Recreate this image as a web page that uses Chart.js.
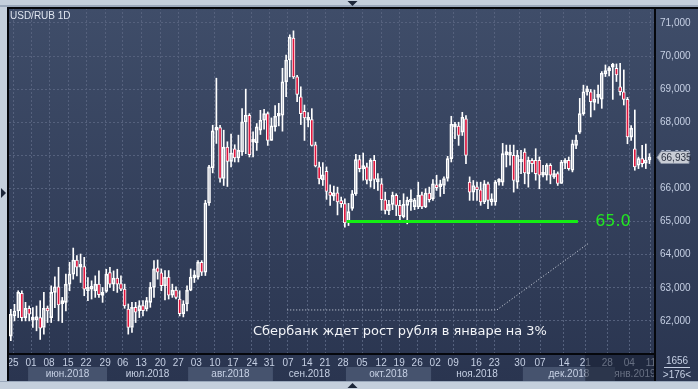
<!DOCTYPE html>
<html>
<head>
<meta charset="utf-8">
<script src="https://cdn.jsdelivr.net/npm/chart.js@4.4.1/dist/chart.umd.min.js"></script>
<style>
  html, body { margin: 0; padding: 0; background: #c4cfdc; overflow: hidden; }
  canvas { display: block; }
</style>
</head>
<body>
<canvas id="grafico" width="698" height="389"></canvas>
<script>
// USD/RUB 1D, 25.05.2018 - 11.01.2019
const opens = [
  61.54, 62.15, 62.30, 62.83, 62.10, 62.38, 62.02, 62.03, 62.10, 61.80,
  62.38, 62.10, 62.86, 63.03, 62.52, 62.56, 63.11, 63.41, 63.84, 63.62,
  63.64, 62.91, 62.96, 62.91, 63.11, 62.77, 62.89, 63.46, 63.11, 63.29,
  63.13, 62.96, 62.36, 61.80, 62.41, 62.31, 62.46, 62.36, 62.56, 63.01,
  63.60, 63.45, 63.06, 63.32, 62.78, 62.93, 62.66, 62.22, 62.51, 62.93,
  63.30, 63.32, 63.77, 63.47, 65.56, 66.63, 67.76, 67.84, 66.30, 67.25,
  66.82, 67.20, 66.92, 67.10, 68.01, 68.21, 67.40, 67.38, 67.76, 68.06,
  68.26, 67.45, 67.86, 68.18, 68.21, 69.22, 69.88, 70.54, 69.37, 68.77,
  68.33, 68.06, 68.08, 67.32, 66.65, 66.26, 66.52, 65.89, 65.77, 65.87,
  65.57, 65.54, 64.98, 65.40, 65.84, 66.87, 66.60, 66.65, 66.23, 66.85,
  66.20, 66.14, 65.66, 65.32, 65.52, 65.79, 65.49, 65.15, 65.49, 65.59,
  65.45, 65.44, 65.81, 65.44, 65.86, 65.69, 66.09, 66.05, 66.09, 66.30,
  66.90, 67.85, 67.88, 67.70, 68.10, 66.19, 65.89, 66.04, 65.96, 65.59,
  66.14, 65.59, 65.59, 66.19, 66.19, 67.02, 67.00, 67.00, 66.19, 66.80,
  67.10, 66.45, 66.85, 66.85, 66.85, 66.40, 66.40, 66.70, 66.35, 66.45,
  66.15, 66.76, 66.85, 66.55, 67.30, 67.70, 68.26, 68.92, 68.92, 68.60,
  68.75, 68.70, 69.46, 69.55, 69.66, 69.63, 69.07, 68.92, 68.69, 67.55,
  67.20, 66.70, 66.90, 66.76, 66.86
];
const highs = [
  62.35, 62.50, 62.91, 62.91, 62.56, 62.45, 62.40, 62.45, 62.61, 62.86,
  62.45, 63.06, 63.33, 63.62, 62.71, 63.41, 63.77, 64.20, 63.97, 64.02,
  63.92, 63.31, 63.21, 63.36, 63.51, 63.01, 63.56, 63.62, 63.51, 63.56,
  63.36, 63.11, 62.51, 62.56, 62.56, 62.61, 62.61, 62.71, 63.16, 63.82,
  63.84, 63.57, 63.52, 63.52, 63.11, 63.03, 62.91, 62.61, 63.06, 63.57,
  63.52, 63.82, 63.82, 65.64, 66.70, 67.91, 69.33, 67.91, 67.76, 67.41,
  67.64, 67.32, 67.61, 68.41, 69.00, 68.26, 67.71, 67.96, 68.36, 68.39,
  68.31, 68.13, 68.50, 68.57, 69.63, 70.03, 70.64, 70.76, 69.42, 69.07,
  68.52, 68.29, 68.41, 67.40, 66.80, 66.78, 66.65, 66.11, 66.07, 66.04,
  65.74, 65.69, 65.55, 65.94, 67.03, 67.00, 67.07, 66.77, 66.90, 67.00,
  66.45, 66.30, 65.89, 65.64, 65.89, 65.84, 65.64, 65.84, 65.74, 65.96,
  65.70, 66.19, 65.89, 65.99, 66.04, 66.27, 66.40, 66.25, 66.35, 66.97,
  68.18, 68.00, 68.00, 68.30, 68.20, 66.35, 66.24, 66.19, 66.19, 66.24,
  66.19, 65.84, 66.24, 66.30, 67.36, 67.31, 67.31, 67.31, 67.15, 67.15,
  67.20, 66.95, 66.90, 67.20, 66.95, 66.70, 66.75, 66.75, 66.55, 66.50,
  66.85, 66.90, 66.95, 67.46, 67.61, 68.72, 69.12, 69.09, 68.99, 68.97,
  69.12, 69.53, 69.73, 69.68, 69.78, 69.76, 69.78, 69.58, 68.75, 67.90,
  68.37, 66.95, 67.30, 67.34, 67.05
];
const lows = [
  61.40, 62.00, 62.10, 62.00, 62.00, 62.00, 61.80, 61.70, 61.44, 61.60,
  61.95, 61.95, 62.40, 62.00, 61.95, 62.30, 62.91, 63.26, 63.36, 63.16,
  62.76, 62.61, 62.66, 62.71, 62.71, 62.56, 62.86, 63.01, 62.91, 62.86,
  62.91, 62.38, 61.60, 61.65, 61.95, 62.10, 62.15, 62.30, 62.41, 62.71,
  63.26, 62.91, 62.63, 62.66, 62.71, 62.66, 62.15, 62.12, 62.30, 62.91,
  63.16, 63.26, 63.37, 63.37, 65.49, 66.47, 67.36, 66.19, 66.09, 66.06,
  66.65, 66.80, 66.80, 67.00, 67.05, 66.95, 66.95, 67.15, 67.63, 67.79,
  67.30, 67.45, 67.73, 67.89, 67.73, 68.77, 69.37, 69.32, 68.62, 67.93,
  67.45, 67.86, 67.28, 66.65, 66.14, 66.09, 65.67, 65.49, 65.64, 65.20,
  65.43, 64.83, 64.88, 65.34, 65.79, 66.50, 66.25, 66.14, 66.04, 65.99,
  65.94, 65.34, 65.23, 65.21, 65.36, 65.18, 65.03, 65.11, 64.93, 65.34,
  65.36, 65.39, 65.39, 65.42, 65.59, 65.64, 65.94, 65.76, 65.84, 66.22,
  66.80, 67.50, 67.30, 67.60, 66.75, 65.64, 65.64, 65.64, 65.49, 65.54,
  65.39, 65.49, 65.49, 66.10, 66.09, 66.65, 66.70, 65.89, 66.00, 66.45,
  66.14, 66.04, 66.50, 66.25, 65.99, 66.35, 66.25, 66.14, 66.30, 66.09,
  66.15, 66.60, 66.55, 66.50, 67.20, 67.66, 68.21, 68.82, 68.16, 68.37,
  68.57, 68.42, 69.38, 69.40, 68.69, 69.23, 68.82, 68.52, 67.35, 67.45,
  66.55, 66.60, 66.65, 66.60, 66.75
];
const closes = [
  62.20, 62.30, 62.86, 62.10, 62.38, 62.20, 62.04, 62.13, 61.78, 62.38,
  62.30, 62.86, 63.03, 62.48, 62.56, 63.11, 63.41, 63.84, 63.62, 63.64,
  62.96, 63.01, 63.03, 63.11, 62.79, 62.80, 63.41, 63.11, 63.29, 63.11,
  62.96, 62.45, 61.80, 62.41, 62.26, 62.46, 62.31, 62.61, 63.01, 63.57,
  63.47, 63.06, 63.32, 62.78, 62.93, 62.71, 62.22, 62.51, 62.93, 63.32,
  63.34, 63.77, 63.47, 65.56, 66.65, 67.74, 67.81, 66.30, 67.25, 66.82,
  67.07, 66.92, 67.15, 68.01, 68.21, 67.02, 67.46, 67.86, 68.06, 68.26,
  67.45, 67.89, 68.18, 68.21, 69.22, 69.88, 70.57, 69.37, 68.84, 68.26,
  68.13, 68.12, 67.30, 66.68, 66.29, 66.41, 65.91, 65.79, 65.87, 65.59,
  65.54, 64.96, 65.30, 65.84, 66.87, 66.60, 66.65, 66.25, 66.85, 66.27,
  66.30, 65.66, 65.34, 65.52, 65.79, 65.49, 65.18, 65.52, 65.64, 65.66,
  65.65, 65.79, 65.44, 65.86, 65.66, 66.14, 66.02, 66.10, 66.30, 66.90,
  67.94, 67.90, 67.60, 68.15, 67.00, 65.89, 66.09, 65.96, 65.59, 66.14,
  65.64, 65.69, 66.19, 66.22, 67.05, 67.07, 67.05, 66.24, 67.00, 66.85,
  66.47, 66.85, 66.75, 66.45, 66.40, 66.45, 66.70, 66.40, 66.45, 66.15,
  66.80, 66.80, 66.60, 67.35, 67.46, 68.26, 68.92, 68.97, 68.62, 68.70,
  68.80, 69.48, 69.56, 69.57, 69.68, 69.43, 68.92, 68.69, 67.56, 67.82,
  66.65, 66.90, 66.75, 66.86, 66.935
];

const barrasVisibles = 176; // ">176<"
const yTicks = [62, 63, 64, 65, 66, 67, 68, 69, 70, 71];
const dateTicks = ['25', '01', '08', '15', '22', '29', '06', '13', '20', '27', '03', '10', '17',
  '24', '31', '07', '14', '21', '28', '05', '12', '19', '26', '02', '09', '16', '23', '30',
  '07', '14', '21', '28', '04', '11'];
const dateTickPos = [0.6, 5.5, 10.4, 15.6, 20.5, 25.7, 30.5, 35.5, 40.7, 45.6, 50.5, 55.6, 60.5,
  65.7, 70.4, 75.5, 80.7, 85.6, 90.5, 95.7, 100.9, 105.8, 110.7, 115.6, 120.5, 126.8, 131.7, 138.7,
  144.2, 150.7, 156.5, 162.5, 168.5, 174.4];
const months = ['', 'июн.2018', 'июл.2018', 'авг.2018', 'сен.2018', 'окт.2018', 'ноя.2018', 'дек.2018', 'янв.2019'];
const monthEdges = [-0.5, 4.7, 26.2, 48.3, 71.4, 91.3, 114.5, 139.5, 164.6, 175.5];

// уровень 65.0 и прогнозная пунктирная линия
const nivelX = [91.5, 154.5];
const nivel = 65.0;
const pronosticoX = [75.3, 132.4, 157.6];
const pronosticoY = [62.33, 62.33, 64.36];
const nota = 'Сбербанк ждет рост рубля в январе на 3%';
const notaX = 106, notaY = 61.68;
const nivelLabelX = 159.2;
const inicioFuturo = 156.5; // затемнённая часть шкалы дат
const contador = '1656';

const idx = closes.map((_, i) => i);
const sube = i => closes[i] >= opens[i];

const mechaAlta = idx.map(i => ({ x: i, y: [Math.max(opens[i], closes[i]), highs[i]] }));
const mechaBaja = idx.map(i => ({ x: i, y: [lows[i], Math.min(opens[i], closes[i])] }));
const cuerpos = idx.map(i => ({ x: i, y: [opens[i], closes[i]] }));
const lineaNivel = nivelX.map(x => ({ x, y: nivel }));
const lineaPronostico = pronosticoX.map((x, i) => ({ x, y: pronosticoY[i] }));

const TXT = '#c6d0e4';
const FUENTE = 'Liberation Sans';

const fondo = {
  id: 'fondo',
  beforeDraw(chart) {
    const { ctx, chartArea: a, width: W, height: H } = chart;
    const xs = chart.scales.x;
    ctx.save();
    ctx.fillStyle = '#c4cfdc';
    ctx.fillRect(0, 0, W, H);
    ctx.fillStyle = '#9aa8bb';
    ctx.fillRect(0, 5, W, 2);
    ctx.fillRect(0, H - 8, W, 1);
    const g = ctx.createLinearGradient(0, a.top, 0, H - 8);
    g.addColorStop(0, '#3f4d69');
    g.addColorStop(1, '#2a3550');
    ctx.fillStyle = g;
    ctx.fillRect(8, 8, W - 8, H - 16);

    // полосы месяцев
    ctx.font = `10px "${FUENTE}"`;
    ctx.textAlign = 'center';
    ctx.textBaseline = 'middle';
    for (let m = 0; m < months.length; m++) {
      const x0 = xs.getPixelForValue(monthEdges[m]);
      const x1 = xs.getPixelForValue(monthEdges[m + 1]);
      if (m % 2 === 1) {
        ctx.fillStyle = '#46536e';
        ctx.fillRect(x0, a.bottom + 13, x1 - x0, 14);
      }
      if (months[m]) {
        ctx.fillStyle = TXT;
        ctx.fillText(months[m], (x0 + x1) / 2, a.bottom + 20.5);
      }
    }
    ctx.restore();
  },
  afterDraw(chart) {
    const { ctx, chartArea: a, width: W, height: H } = chart;
    const xs = chart.scales.x, ys = chart.scales.y;
    ctx.save();

    // затемнение правой части шкалы дат
    const xf = xs.getPixelForValue(inicioFuturo);
    ctx.fillStyle = 'rgba(24, 31, 50, 0.55)';
    ctx.fillRect(xf, a.bottom + 1, a.right - xf, H - 9 - a.bottom);

    // рамки
    ctx.fillStyle = '#05070c';
    ctx.fillRect(7, 7, W - 7, 2);
    ctx.fillRect(7, 7, 2, H - 15);
    ctx.fillRect(7, a.bottom - 1, a.right - 6, 2);
    ctx.fillRect(a.right - 1, 7, 2, H - 15);

    // заголовок
    ctx.fillStyle = '#dfe5ef';
    ctx.font = `10px "${FUENTE}"`;
    ctx.textAlign = 'left';
    ctx.textBaseline = 'middle';
    ctx.fillText('USD/RUB 1D', a.left + 1, a.top + 8);

    // подпись уровня
    ctx.fillStyle = '#22e622';
    ctx.font = '16px "DejaVu Sans"';
    ctx.fillText(nivel.toFixed(1), xs.getPixelForValue(nivelLabelX), ys.getPixelForValue(nivel));

    // текст прогноза
    ctx.fillStyle = '#f2f4f8';
    ctx.font = '13px "DejaVu Sans"';
    const w = ctx.measureText(nota).width;
    const size = 13 * 294 / w;
    ctx.font = `${size.toFixed(2)}px "DejaVu Sans"`;
    ctx.textAlign = 'center';
    ctx.fillText(nota, xs.getPixelForValue(notaX), ys.getPixelForValue(notaY));

    // метка последней цены
    const last = closes[closes.length - 1];
    const py = Math.round(ys.getPixelForValue(last)) + 0.5;
    const px = a.right + 2;
    ctx.beginPath();
    ctx.moveTo(px, py);
    ctx.lineTo(px + 4, py - 6);
    ctx.lineTo(px + 32, py - 6);
    ctx.lineTo(px + 32, py + 6);
    ctx.lineTo(px + 4, py + 6);
    ctx.closePath();
    ctx.fillStyle = '#c9cdd5';
    ctx.fill();
    ctx.strokeStyle = '#8790a2';
    ctx.lineWidth = 1;
    ctx.stroke();
    ctx.fillStyle = '#2a3040';
    ctx.font = `10px "${FUENTE}"`;
    ctx.textAlign = 'left';
    ctx.fillText(last.toFixed(3).replace('.', ','), px + 4, py + 0.5);

    // счётчик баров
    const cx = a.right + 22;
    ctx.fillStyle = TXT;
    ctx.textAlign = 'center';
    ctx.fillText(contador, cx, a.bottom + 7);
    ctx.fillRect(cx - 13, a.bottom + 13, 26, 1);
    ctx.fillText('>' + barrasVisibles + '<', cx, a.bottom + 21);

    // треугольники прокрутки
    ctx.fillStyle = '#1c2638';
    const mx = 352.5;
    ctx.beginPath(); ctx.moveTo(mx - 5, 1); ctx.lineTo(mx + 5, 1); ctx.lineTo(mx, 6); ctx.fill();
    ctx.beginPath(); ctx.moveTo(mx - 5, H - 1); ctx.lineTo(mx + 5, H - 1); ctx.lineTo(mx, H - 6); ctx.fill();
    ctx.beginPath(); ctx.moveTo(1, 188); ctx.lineTo(1, 198); ctx.lineTo(6, 193); ctx.fill();
    ctx.restore();
  }
};

const gridColor = '#55617d';

new Chart(document.getElementById('grafico').getContext('2d'), {
  type: 'bar',
  data: {
    datasets: [
      {
        type: 'line', data: lineaNivel, borderColor: '#14ee14', borderWidth: 3,
        pointRadius: 0, order: 0
      },
      {
        data: cuerpos, grouped: false, barThickness: 3, minBarLength: 3,
        borderWidth: 1, borderSkipped: false, borderColor: '#ffffff',
        backgroundColor: c => sube(c.dataIndex) ? 'rgba(0,0,0,0)' : '#e0163e',
        order: 1
      },
      { data: mechaAlta, grouped: false, barThickness: 1, backgroundColor: '#ffffff', order: 2 },
      { data: mechaBaja, grouped: false, barThickness: 1, backgroundColor: '#ffffff', order: 2 },
      {
        type: 'line', data: lineaPronostico, borderColor: '#d5dae4', borderWidth: 1,
        borderDash: [1, 2], pointRadius: 0, order: 3
      }
    ]
  },
  options: {
    responsive: false,
    animation: false,
    devicePixelRatio: 1,
    layout: { padding: { left: 9, top: 8, right: 0, bottom: 7 } },
    plugins: { legend: { display: false }, tooltip: { enabled: false } },
    scales: {
      x: {
        type: 'linear',
        offset: false,
        min: -0.5,
        max: barrasVisibles - 0.5,
        afterBuildTicks: s => { s.ticks = dateTickPos.map(v => ({ value: v })); },
        afterFit: s => { s.height = 28; s.paddingLeft = 0; s.paddingRight = 0; },
        grid: { color: gridColor, drawTicks: false, offset: false },
        border: { display: false, dash: [2, 2] },
        ticks: {
          autoSkip: false, maxRotation: 0, padding: 3, color: TXT,
          font: { family: FUENTE, size: 10 },
          callback: (v, i) => dateTicks[i]
        }
      },
      y: {
        position: 'right',
        min: 61.0,
        max: 71.45,
        afterBuildTicks: s => { s.ticks = yTicks.map(v => ({ value: v })); },
        afterFit: s => { s.width = 43; s.paddingTop = 0; s.paddingBottom = 0; },
        grid: { color: gridColor, drawTicks: false },
        border: { display: false, dash: [2, 2] },
        ticks: {
          padding: 5, color: TXT,
          font: { family: FUENTE, size: 10 },
          callback: v => v.toFixed(3).replace('.', ',')
        }
      }
    }
  },
  plugins: [fondo]
});
</script>
</body>
</html>
